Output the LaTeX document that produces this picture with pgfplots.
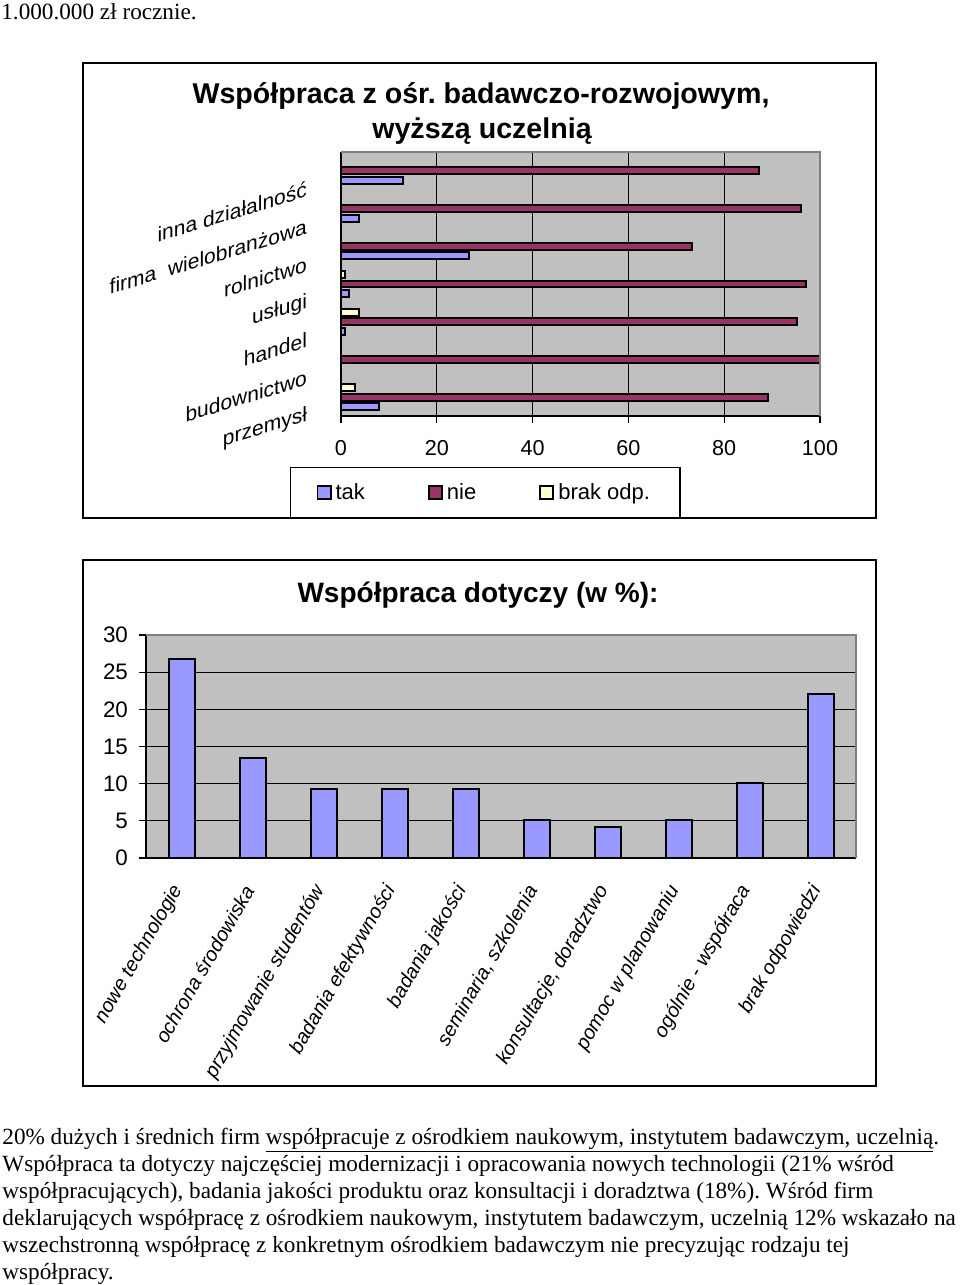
\documentclass[border=0pt]{standalone}
\usepackage{fontspec}
\setmainfont{Liberation Serif}
\newfontfamily\arial{Liberation Sans}
\usepackage{pgfplots}
\pgfplotsset{compat=1.18}
\definecolor{plotgray}{RGB}{192,192,192}
\definecolor{bordergray}{RGB}{128,128,128}
\definecolor{takc}{RGB}{153,153,255}
\definecolor{niec}{RGB}{153,51,102}
\definecolor{brakc}{RGB}{255,255,204}
\begin{document}
\frenchspacing
\begin{tikzpicture}[x=0.5pt,y=-0.5pt]
\path[use as bounding box] (0,0) rectangle (960,1285);
% --- page text ---
\node[anchor=base west,inner sep=0pt,font=\fontsize{11.6}{13.5}\selectfont] at (1,19) {1.000.000 zł rocznie.};
% --- frames ---
\draw[line width=0.7pt] (83,63) rectangle (876,518);
\draw[line width=0.7pt] (83,560) rectangle (876,1086);
% --- titles ---
\node[font=\arial\bfseries\fontsize{14.3}{16}\selectfont,inner sep=0pt] at (481,96) {Współpraca z ośr. badawczo-rozwojowym,};
\node[font=\arial\bfseries\fontsize{14.3}{16}\selectfont,inner sep=0pt] at (482,131) {wyższą uczelnią};
\node[font=\arial\bfseries\fontsize{14}{16}\selectfont,inner sep=0pt] at (478,595) {Współpraca dotyczy (w \%):};

% --- top chart ---
\begin{axis}[
  at={(170.5pt,-208pt)}, anchor=south west,
  scale only axis, width=239.5pt, height=132pt,
  xbar, bar width=3.4pt,
  xmin=0, xmax=100, ymin=-0.5, ymax=6.5,
  axis lines*=left, axis line style={-, black, line width=0.6pt},
  axis background/.style={fill=plotgray},
  xtick={0,20,...,100},
  ytick={0,...,6},
  yticklabels={przemysł, budownictwo, handel, usługi, rolnictwo, {firma\ \ wielobranżowa}, inna działalność},
  major y tick style={draw=none},
  extra y ticks={-0.5,0.5,...,6.5}, extra y tick labels={},
  extra y tick style={major tick length=3.5pt, tick style={black, line width=0.6pt}},
  tick align=outside, major tick length=3.5pt,
  tick style={black, line width=0.6pt},
  xmajorgrids, grid style={black, line width=0.5pt},
  /pgf/number format/assume math mode=true,
  xticklabel style={font=\arial\fontsize{10.8}{12}\selectfont, yshift=-5pt},
  yticklabel style={font=\arial\fontsize{10.5}{12}\selectfont, xshift=-10pt, yshift=-8pt, yslant=0.306, anchor=east},
  every axis plot/.append style={draw=black, line width=1pt},
  legend image code/.code={\draw[#1,draw=black,line width=0.9pt] (0pt,-3.3pt) rectangle (6.6pt,3.3pt);},
  legend style={at={(-0.1065,-0.193)}, anchor=north west, draw=black, line width=0.6pt,
    legend columns=3, font=\arial\fontsize{11}{13}\selectfont,
    inner xsep=13pt, inner ysep=5.8pt,
    /tikz/every even column/.append style={column sep=29.5pt}},
  after end axis/.code={\draw[bordergray,line width=0.6pt] (rel axis cs:0,1) -- (rel axis cs:1,1) -- (rel axis cs:1,0);},
]
\addplot[fill=takc, bar shift=-4.8pt] coordinates {(7.9,0) (0.8,2) (1.7,3) (26.8,4) (3.8,5) (13,6)};
\addplot[fill=niec, bar shift=0pt] coordinates {(89.2,0) (100,1) (95.3,2) (97,3) (73.3,4) (96,5) (87.3,6)};
\addplot[fill=brakc, bar shift=4.8pt] coordinates {(2.9,0) (3.8,2) (0.8,3)};
\legend{tak,nie,brak odp.}
\end{axis}

% --- bottom chart ---
\begin{axis}[
  at={(73pt,-429pt)}, anchor=south west,
  scale only axis, width=355pt, height=111.5pt,
  ybar, bar width=13pt,
  xmin=-0.5, xmax=9.5, ymin=0, ymax=30,
  axis lines*=left, axis line style={-, black, line width=0.6pt},
  axis background/.style={fill=plotgray},
  ytick={0,5,...,30},
  xtick={0,...,9},
  xticklabels={nowe technologie, ochrona środowiska, przyjmowanie studentów, badania efektywności, badania jakości, {seminaria, szkolenia}, {konsultacje, doradztwo}, pomoc w planowaniu, ogólnie - współraca, brak odpowiedzi},
  major x tick style={draw=none},
  extra x ticks={-0.5,0.5,...,9.5}, extra x tick labels={},
  extra x tick style={major tick length=3.5pt, tick style={black, line width=0.6pt}, grid=none},
  tick align=outside, major tick length=3.5pt,
  tick style={black, line width=0.6pt},
  ymajorgrids, grid style={black, line width=0.6pt},
  /pgf/number format/assume math mode=true,
  yticklabel style={font=\arial\fontsize{11.2}{12}\selectfont, xshift=-2pt},
  xticklabel style={font=\arial\itshape\fontsize{10}{12}\selectfont, yshift=-8pt, rotate=60, anchor=east},
  every axis plot/.append style={draw=black, line width=1pt},
  after end axis/.code={\draw[bordergray,line width=0.6pt] (rel axis cs:0,1) -- (rel axis cs:1,1) -- (rel axis cs:1,0);},
]
\addplot[fill=takc] coordinates {(0,26.8) (1,13.4) (2,9.3) (3,9.3) (4,9.3) (5,5.1) (6,4.2) (7,5.1) (8,10.1) (9,22.1)};
\end{axis}

% --- paragraph ---
\begin{scope}[every node/.style={anchor=base west,inner sep=0pt,font=\fontsize{11.6}{13.5}\selectfont}]
\node at (2,1144) {20\% dużych i średnich firm \underline{współpracuje z ośrodkiem naukowym, instytutem badawczym, uczelnią}.};
\node at (2,1171) {Współpraca ta dotyczy najczęściej modernizacji i opracowania nowych technologii (21\% wśród};
\node at (2,1198) {współpracujących), badania jakości produktu oraz konsultacji i doradztwa (18\%). Wśród firm};
\node at (2,1225) {deklarujących współpracę z ośrodkiem naukowym, instytutem badawczym, uczelnią 12\% wskazało na};
\node at (2,1252) {wszechstronną współpracę z konkretnym ośrodkiem badawczym nie precyzując rodzaju tej};
\node at (2,1279) {współpracy.};
\end{scope}
\end{tikzpicture}
\end{document}
